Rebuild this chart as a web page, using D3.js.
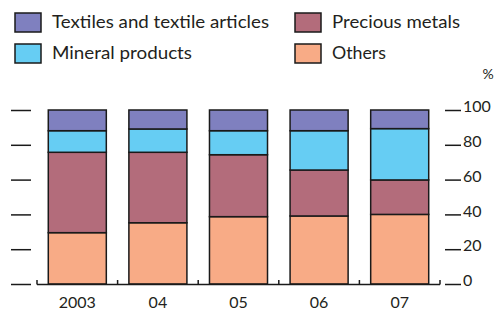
<!DOCTYPE html>
<html><head><meta charset="utf-8">
<script src="https://cdn.jsdelivr.net/npm/d3@7"></script>
<style>
html,body{margin:0;padding:0;background:#fff;}
svg{display:block;font-family:Lato, "Liberation Sans", sans-serif;}
</style></head>
<body><svg id="c" width="498" height="312"></svg>
<script>
const categories = ["2003","04","05","06","07"];
const seriesNames = ["Others","Precious metals","Mineral products","Textiles and textile articles"];
const others    = [29.5, 35.2, 38.7, 39.1, 40.0];
const precious  = [46.2, 40.5, 35.6, 26.4, 19.8];
const mineral   = [12.4, 13.4, 13.8, 22.6, 29.5];
const textiles  = [11.9, 10.9, 11.9, 11.9, 10.7];
const yTicks = [0,20,40,60,80,100];
const colors = ["#f8ab86","#b36c7b","#66cdf3","#7f80bf"];

const svg = d3.select("#c");
const rows = categories.map((c,i)=>({cat:c, "Others":others[i], "Precious metals":precious[i], "Mineral products":mineral[i], "Textiles and textile articles":textiles[i]}));
const stack = d3.stack().keys(seriesNames)(rows);

const x = d3.scaleBand().domain(categories).range([37,440]).paddingInner(0.28).paddingOuter(0.14);
const y = d3.scaleLinear().domain([0,100]).range([284,110]);

// bars
svg.append("g").selectAll("g").data(stack).join("g")
  .attr("fill",(d,i)=>colors[i])
  .selectAll("rect").data(d=>d).join("rect")
  .attr("x",d=>x(d.data.cat)).attr("width",x.bandwidth())
  .attr("y",d=>y(d[1])).attr("height",d=>y(d[0])-y(d[1]))
  .attr("stroke","#1a1a1a").attr("stroke-width",1.5);

// bottom axis line with upward separators
const step = x.step(), pin = x.paddingInner()*step/2;
const seps = [x.range()[0]].concat(categories.slice(0,-1).map(c=>x(c)+x.bandwidth()+pin)).concat([x.range()[1]]);
const bx = svg.append("g").attr("stroke","#1a1a1a").attr("stroke-width",1.5);
bx.append("line").attr("x1",x.range()[0]).attr("x2",x.range()[1]).attr("y1",y(0)+0.5).attr("y2",y(0)+0.5);
bx.selectAll("line.s").data(seps).join("line").attr("class","s")
  .attr("x1",d=>d).attr("x2",d=>d).attr("y1",y(0)+0.5).attr("y2",y(0)-4);
svg.append("g").selectAll("text").data(categories).join("text")
  .attr("x",d=>x(d)+x.bandwidth()/2).attr("y",308)
  .attr("text-anchor","middle").attr("font-size",16).attr("fill","#231f20").text(d=>d);

// right axis
const ra = svg.append("g").attr("transform","translate(445,0)")
  .call(d3.axisRight(y).tickValues(yTicks).tickSize(16).tickPadding(2));
ra.select(".domain").remove();
ra.selectAll(".tick line").attr("stroke","#1a1a1a").attr("stroke-width",1.5);
ra.selectAll(".tick text").attr("font-size",16).attr("fill","#231f20").attr("font-family","Lato, sans-serif").attr("dy","0.1em");
svg.append("text").attr("x",488).attr("y",79).attr("text-anchor","middle").attr("font-size",14).attr("fill","#231f20").text("%");

// left ticks (neighbouring axis, labels cut off)
const la = svg.append("g").attr("transform","translate(31,0)")
  .call(d3.axisLeft(y).tickValues(yTicks).tickSize(20).tickFormat(""));
la.select(".domain").remove();
la.selectAll(".tick line").attr("stroke","#1a1a1a").attr("stroke-width",1.5);

// legend
const legend = [
  {name:"Textiles and textile articles", c:3, lx:15, ly:13, w:217},
  {name:"Precious metals", c:1, lx:295, ly:13, w:128},
  {name:"Mineral products", c:2, lx:15, ly:44, w:140},
  {name:"Others", c:0, lx:295, ly:44, w:54}
];
const lg = svg.append("g").selectAll("g").data(legend).join("g")
  .attr("transform",d=>`translate(${d.lx},${d.ly})`);
lg.append("rect").attr("width",26).attr("height",19).attr("fill",d=>colors[d.c]).attr("stroke","#1a1a1a").attr("stroke-width",1.5);
lg.append("text").attr("x",37).attr("y",15).attr("font-size",17).attr("fill","#231f20")
  .attr("textLength",d=>d.w).attr("lengthAdjust","spacingAndGlyphs").text(d=>d.name);
</script></body></html>
